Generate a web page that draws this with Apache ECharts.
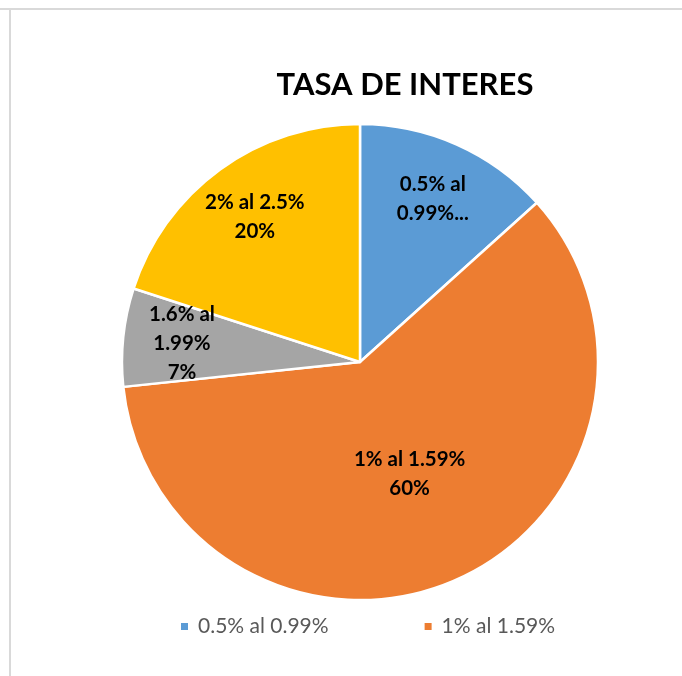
<!DOCTYPE html>
<html><head><meta charset="utf-8">
<script src="https://cdn.jsdelivr.net/npm/echarts@6/dist/echarts.min.js"></script>
<style>html,body{margin:0;padding:0;background:#fff}#c{width:682px;height:676px}</style>
</head><body><div id="c"></div>
<script>
const categories = ['0.5% al 0.99%', '1% al 1.59%', '1.6% al 1.99%', '2% al 2.5%'];
const values = [2, 9, 1, 3];
const percentLabels = ['', '60%', '7%', '20%'];
const sliceLabels = ['0.5% al\n0.99%...', '1% al 1.59%', '1.6% al\n1.99%', '2% al 2.5%'];
const colors = ['#5b9bd5', '#ed7d31', '#a5a5a5', '#ffc000'];
const legendItems = ['0.5% al 0.99%', '1% al 1.59%'];
const titleText = 'TASA DE INTERES';

const FONT = 'Lato, "Open Sans", sans-serif';
function labelText(i){ return percentLabels[i] ? sliceLabels[i] + '\n' + percentLabels[i] : sliceLabels[i]; }

const chart = echarts.init(document.getElementById('c'), null, {renderer:'canvas'});
const baseData = categories.map((c,i)=>({
  name:c, value:values[i], itemStyle:{color:colors[i]},
  label:{show:i===1}
}));
const outerData = categories.map((c,i)=>({
  name:c+' ', value:values[i], itemStyle:{color:'transparent'},
  label:{show:i!==1}
}));
const labelStyle = {position:'inside', formatter:p=>labelText(p.dataIndex),
  fontFamily:FONT, fontWeight:'bold', fontSize:20.5, color:'#000', lineHeight:29};
chart.setOption({
  animation:false,
  title:{text:titleText, left:400, top:64, textAlign:'center',
    textStyle:{fontFamily:FONT, fontWeight:'bold', fontSize:31, color:'#000'}},
  legend:{data:legendItems, top:611, left:174, itemWidth:9, itemHeight:9, itemGap:94,
    icon:'rect', textStyle:{fontFamily:FONT, fontSize:21, color:'#595959', padding:[0,0,0,4]}},
  graphic:[
    {type:'line', shape:{x1:0,y1:9,x2:682,y2:9}, style:{stroke:'#d9d9d9', lineWidth:2}},
    {type:'line', shape:{x1:10,y1:9,x2:10,y2:676}, style:{stroke:'#d9d9d9', lineWidth:2}}
  ],
  series:[
    {type:'pie', center:[360,362], radius:[0,238], startAngle:90, clockwise:true,
      itemStyle:{borderColor:'#fff', borderWidth:2.5},
      label:labelStyle, labelLine:{show:false}, emphasis:{disabled:true},
      data:baseData},
    {type:'pie', center:[360,362], radius:[0,352], startAngle:90, clockwise:true, silent:true,
      itemStyle:{borderWidth:0},
      label:labelStyle, labelLine:{show:false}, emphasis:{disabled:true},
      data:outerData}
  ]
});
</script></body></html>
